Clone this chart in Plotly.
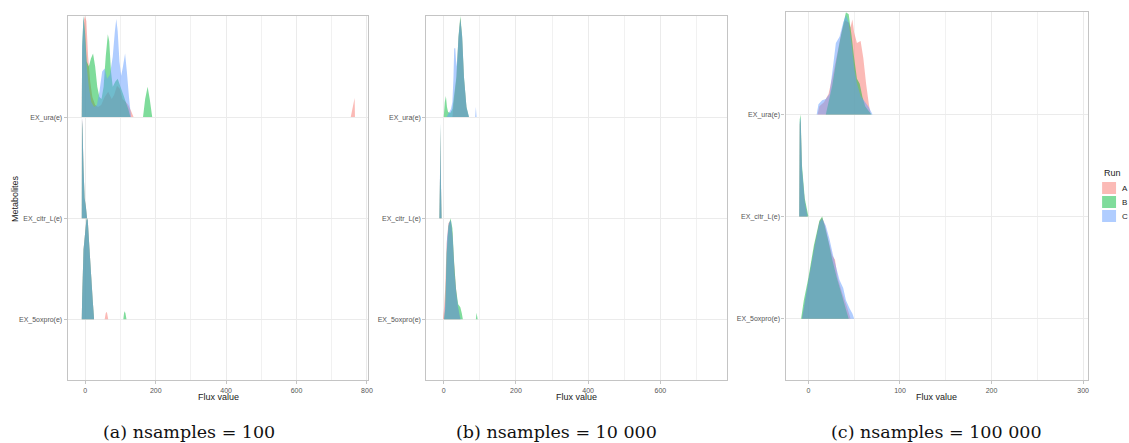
import plotly.graph_objects as go

W, H = 1129, 443
OFF = 0  # body margin removed by post_script

# ---------------- data ----------------
metabolites = ["EX_5oxpro(e)", "EX_citr_L(e)", "EX_ura(e)"]   # bottom -> top
runs = ["A", "B", "C"]
run_colors = {"A": "rgba(248,118,109,0.5)", "B": "rgba(0,186,56,0.5)", "C": "rgba(97,156,255,0.5)"}

captions = ["(a) nsamples = 100", "(b) nsamples = 10 000", "(c) nsamples = 100 000"]
ticks_a = [0, 200, 400, 600, 800]
ticks_b = [0, 200, 400, 600]
ticks_c = [0, 100, 200, 300]

# panel (a) nsamples = 100 : scaled ridge heights
a_ura_A_x = [-10, -9, -5, -1, 3, 8, 14, 20, 28, 36, 45, 55, 65, 75, 82, 90, 98, 106, 115, 122, 130, 137, None, 754, 765, 766]
a_ura_A_h = [0, 0.6, 0.95, 1.0, 0.95, 0.6, 0.35, 0.2, 0.12, 0.1, 0.12, 0.2, 0.25, 0.18, 0.22, 0.31, 0.28, 0.18, 0.15, 0.12, 0.06, 0, None, 0, 0.19, 0]
a_ura_B_x = [-10, -9, -5, -1, 4, 10, 16, 22, 28, 34, 40, 46, 52, 58, 64, 68, 73, 78, 85, 92, 100, 108, 115, 122, 128, None, 164, 170, 177, 183, 190]
a_ura_B_h = [0, 0.7, 1.0, 0.85, 0.55, 0.5, 0.58, 0.63, 0.5, 0.3, 0.2, 0.18, 0.3, 0.6, 0.82, 0.75, 0.45, 0.3, 0.35, 0.38, 0.3, 0.22, 0.15, 0.08, 0, None, 0, 0.18, 0.3, 0.18, 0]
a_ura_C_x = [-10, -9, -5, -1, 4, 10, 17, 25, 33, 40, 48, 55, 62, 70, 78, 84, 88, 92, 97, 102, 107, 113, 118, 124, 130]
a_ura_C_h = [0, 0.7, 1.0, 0.8, 0.5, 0.3, 0.15, 0.1, 0.12, 0.25, 0.45, 0.48, 0.38, 0.42, 0.6, 0.85, 0.97, 0.85, 0.55, 0.41, 0.5, 0.63, 0.45, 0.2, 0]

a_citr_A_x = [-10, -9.5, -8, -5, -2, 2, 5]
a_citr_A_h = [0, 1.0, 0.9, 0.5, 0.2, 0.1, 0]
a_citr_B_x = [-10, -9.5, -8, -5, -2, 2, 5]
a_citr_B_h = [0, 0.98, 0.88, 0.48, 0.2, 0.1, 0]
a_citr_C_x = [-10, -9.5, -8, -5, -2, 2, 5]
a_citr_C_h = [0, 1.0, 0.9, 0.5, 0.2, 0.1, 0]

a_oxp_A_x = [-10, -9, -5, 3, 5, 7, 12, 21, 25, None, 55, 58, 60, 62, 65]
a_oxp_A_h = [0, 0.2, 0.69, 0.98, 1.0, 0.98, 0.69, 0.19, 0, None, 0, 0.06, 0.075, 0.06, 0]
a_oxp_B_x = [-10, -9, -5, 3, 5, 7, 12, 21, 25, None, 108, 110, 112, 114, 117]
a_oxp_B_h = [0, 0.2, 0.69, 0.98, 1.0, 0.98, 0.69, 0.19, 0, None, 0, 0.06, 0.08, 0.06, 0]
a_oxp_C_x = [-10, -9, -5, 3, 5, 7, 12, 21, 25]
a_oxp_C_h = [0, 0.2, 0.69, 0.98, 1.0, 0.98, 0.69, 0.19, 0]

# panel (b) nsamples = 10 000
b_ura_A_x = [24, 30, 35, 41, 46, 51, 56, 63, 69]
b_ura_A_h = [0, 0.22, 0.38, 0.78, 0.98, 0.78, 0.38, 0.09, 0]
b_ura_B_x = [0, 3, 6, 9, 12, 18, 24, 30, 35, 41, 46, 51, 56, 63, 70]
b_ura_B_h = [0, 0.15, 0.21, 0.1, 0.05, 0.04, 0.08, 0.25, 0.4, 0.8, 1.0, 0.8, 0.4, 0.1, 0]
b_ura_C_x = [8, 14, 20, 24, 27, 29, 32, 35, 38, 41, 46, 51, 56, 63, 70, None, 87, 89, 91]
b_ura_C_h = [0, 0.04, 0.08, 0.15, 0.4, 0.68, 0.68, 0.5, 0.6, 0.8, 0.97, 0.8, 0.4, 0.1, 0, None, 0, 0.1, 0]

b_citr_A_x = [-12, -10, -9, -8, -6]
b_citr_A_h = [0, 0.5, 0.9, 0.4, 0]
b_citr_B_x = [-12, -10, -9, -8, -6]
b_citr_B_h = [0, 0.5, 0.95, 0.4, 0]
b_citr_C_x = [-12, -10, -9, -8, -6]
b_citr_C_h = [0, 0.55, 0.95, 0.45, 0]

b_oxp_A_x = [-2, 1, 4, 8, 13, 19, 24, 28, 33, 38, 43, 46]
b_oxp_A_h = [0, 0.12, 0.3, 0.75, 0.95, 0.98, 0.85, 0.6, 0.35, 0.15, 0.05, 0]
b_oxp_B_x = [1, 4, 8, 13, 19, 24, 29, 34, 40, 46, 50, 53, None, 89, 91, 94]
b_oxp_B_h = [0, 0.1, 0.65, 0.92, 1.0, 0.9, 0.55, 0.3, 0.15, 0.12, 0.06, 0, None, 0, 0.066, 0]
b_oxp_C_x = [1, 5, 9, 14, 20, 25, 30, 35, 40, 44, 47]
b_oxp_C_h = [0, 0.2, 0.8, 0.95, 0.98, 0.8, 0.45, 0.25, 0.12, 0.04, 0]

# panel (c) nsamples = 100 000
c_ura_A_x = [10, 12, 17, 22, 27, 32, 36, 40, 44, 46, 48, 50, 53, 57, 60, 63, 66, 68]
c_ura_A_h = [0, 0.08, 0.12, 0.2, 0.4, 0.62, 0.8, 0.92, 0.9, 0.85, 0.93, 0.8, 0.7, 0.72, 0.55, 0.3, 0.1, 0]
c_ura_B_x = [19, 22, 26, 30, 34, 38, 41, 44, 47, 50, 53, 56, 59, 62, 66, 69]
c_ura_B_h = [0, 0.12, 0.28, 0.5, 0.7, 0.88, 1.0, 0.98, 0.78, 0.55, 0.35, 0.3, 0.17, 0.08, 0.03, 0]
c_ura_C_x = [9, 11, 15, 19, 23, 27, 30, 34, 38, 41, 44, 47, 50, 53, 57, 62, 66, 70]
c_ura_C_h = [0, 0.1, 0.14, 0.15, 0.2, 0.48, 0.7, 0.76, 0.9, 0.97, 0.9, 0.7, 0.45, 0.3, 0.18, 0.12, 0.07, 0]

c_citr_A_x = [-10, -9.5, -8.5, -7, -4, -1]
c_citr_A_h = [0, 0.9, 0.95, 0.45, 0.15, 0]
c_citr_B_x = [-10, -9.5, -8.5, -7, -4, 0]
c_citr_B_h = [0, 0.95, 1.0, 0.5, 0.18, 0]
c_citr_C_x = [-10, -9.5, -8.5, -7, -4, -1]
c_citr_C_h = [0, 0.92, 0.97, 0.47, 0.15, 0]

c_oxp_A_x = [-7, -4, 1, 7, 12, 15, 18, 22, 26, 29, 32, 37, 42, 46]
c_oxp_A_h = [0, 0.15, 0.42, 0.73, 0.95, 0.99, 0.92, 0.76, 0.62, 0.58, 0.4, 0.25, 0.12, 0]
c_oxp_B_x = [-8, -5, 0, 6, 12, 15, 18, 22, 26, 31, 36, 41, 44]
c_oxp_B_h = [0, 0.18, 0.4, 0.72, 0.96, 1.0, 0.9, 0.75, 0.58, 0.4, 0.25, 0.09, 0]
c_oxp_C_x = [-7, -4, 1, 7, 12, 15, 19, 23, 27, 31, 34, 38, 41, 45, 48, 50]
c_oxp_C_h = [0, 0.16, 0.42, 0.72, 0.94, 0.98, 0.91, 0.78, 0.62, 0.48, 0.38, 0.3, 0.18, 0.1, 0.05, 0]

panels = [
    {"ura": {"A": (a_ura_A_x, a_ura_A_h), "B": (a_ura_B_x, a_ura_B_h), "C": (a_ura_C_x, a_ura_C_h)},
     "citr": {"A": (a_citr_A_x, a_citr_A_h), "B": (a_citr_B_x, a_citr_B_h), "C": (a_citr_C_x, a_citr_C_h)},
     "oxp": {"A": (a_oxp_A_x, a_oxp_A_h), "B": (a_oxp_B_x, a_oxp_B_h), "C": (a_oxp_C_x, a_oxp_C_h)}},
    {"ura": {"A": (b_ura_A_x, b_ura_A_h), "B": (b_ura_B_x, b_ura_B_h), "C": (b_ura_C_x, b_ura_C_h)},
     "citr": {"A": (b_citr_A_x, b_citr_A_h), "B": (b_citr_B_x, b_citr_B_h), "C": (b_citr_C_x, b_citr_C_h)},
     "oxp": {"A": (b_oxp_A_x, b_oxp_A_h), "B": (b_oxp_B_x, b_oxp_B_h), "C": (b_oxp_C_x, b_oxp_C_h)}},
    {"ura": {"A": (c_ura_A_x, c_ura_A_h), "B": (c_ura_B_x, c_ura_B_h), "C": (c_ura_C_x, c_ura_C_h)},
     "citr": {"A": (c_citr_A_x, c_citr_A_h), "B": (c_citr_B_x, c_citr_B_h), "C": (c_citr_C_x, c_citr_C_h)},
     "oxp": {"A": (c_oxp_A_x, c_oxp_A_h), "B": (c_oxp_B_x, c_oxp_B_h), "C": (c_oxp_C_x, c_oxp_C_h)}},
]
met_keys = {"oxp": 1, "citr": 2, "ura": 3}

# ---------------- layout helpers (page pixel -> paper) ----------------
def fx(px):
    return (px - OFF) / W

def fy(py):
    return 1 - (py - OFF) / H

panel_px = [  # left, right, top, bottom in page pixels
    (68, 370, 16, 380),
    (428.3, 730, 16, 380),
    (789, 1093.3, 12.3, 380),
]
x_ranges = [[-50, 804], [-48, 784], [-25, 305.8]]
x_ticks = [ticks_a, ticks_b, ticks_c]
minor_dtick = [100, 100, 50]

fig = go.Figure()

for p, pdata in enumerate(panels):
    xa = "x" if p == 0 else f"x{p+1}"
    ya = "y" if p == 0 else f"y{p+1}"
    for mk in ["ura", "citr", "oxp"]:
        base = met_keys[mk]
        for r in runs:
            xs, hs = pdata[mk][r]
            ys = [None if h is None else base + h for h in hs]
            fig.add_trace(go.Scatter(
                x=xs, y=ys, mode="none", fill="toself",
                fillcolor=run_colors[r], xaxis=xa, yaxis=ya,
                showlegend=False, hoverinfo="skip", name=r,
            ))

grid_major = "#ebebeb"
border = "#c4c4c4"
tickfont = dict(family="Liberation Sans, Arial, sans-serif", size=7, color="#555555")

layout = dict(
    width=W, height=H, autosize=False,
    margin=dict(l=0, r=0, t=0, b=0),
    paper_bgcolor="white", plot_bgcolor="white",
    showlegend=False,
)
for p in range(3):
    l, r, t, b = panel_px[p]
    xk = "xaxis" if p == 0 else f"xaxis{p+1}"
    yk = "yaxis" if p == 0 else f"yaxis{p+1}"
    ya = "y" if p == 0 else f"y{p+1}"
    xa = "x" if p == 0 else f"x{p+1}"
    layout[xk] = dict(
        domain=[fx(l), fx(r)], range=x_ranges[p], anchor=ya,
        tickmode="array", tickvals=x_ticks[p], ticktext=[str(v) for v in x_ticks[p]],
        showgrid=True, gridcolor=grid_major, gridwidth=1,
        minor=dict(dtick=minor_dtick[p], tick0=0, showgrid=True, gridcolor="#f1f1f1", gridwidth=0.8),
        showline=True, mirror=True, linecolor=border, linewidth=1.2,
        ticks="outside", ticklen=3, tickcolor=border, tickwidth=1,
        tickfont=tickfont, zeroline=False, layer="below traces",
    )
    layout[yk] = dict(
        domain=[fy(b), fy(t)], range=[0.4, 4.0], anchor=xa,
        tickmode="array", tickvals=[1, 2, 3], ticktext=metabolites,
        showgrid=True, gridcolor=grid_major, gridwidth=1,
        showline=True, mirror=True, linecolor=border, linewidth=1.2,
        ticks="outside", ticklen=3, tickcolor=border, tickwidth=1,
        tickfont=tickfont, zeroline=False,
    )
fig.update_layout(**layout)

annotations = []
title_font = dict(family="Liberation Sans, Arial, sans-serif", size=9, color="#222222")
for p in range(3):
    l, r, t, b = panel_px[p]
    annotations.append(dict(text="Flux value", x=fx((l + r) / 2), y=fy(397), xref="paper", yref="paper",
                            xanchor="center", yanchor="middle", showarrow=False, font=title_font))
annotations.append(dict(text="Metabolites", x=fx(15), y=fy(198), xref="paper", yref="paper",
                        xanchor="center", yanchor="middle", textangle=-90, showarrow=False, font=title_font))
cap_centers = [190, 559, 941]
for cx, cap in zip(cap_centers, captions):
    annotations.append(dict(text=cap, x=fx(cx), y=fy(432), xref="paper", yref="paper",
                            xanchor="center", yanchor="middle", showarrow=False,
                            font=dict(family="DejaVu Serif, serif", size=17.5, color="#111111")))

# legend (Run)
annotations.append(dict(text="Run", x=fx(1107), y=fy(173), xref="paper", yref="paper",
                        xanchor="left", yanchor="middle", showarrow=False, font=title_font))
shapes = []
key_tops = [182, 196, 210]
for r, kt in zip(runs, key_tops):
    shapes.append(dict(type="rect", xref="paper", yref="paper", x0=fx(1107), x1=fx(1121),
                       y0=fy(kt + 12), y1=fy(kt), fillcolor=run_colors[r], line=dict(width=0)))
    annotations.append(dict(text=r, x=fx(1125), y=fy(kt + 6), xref="paper", yref="paper",
                            xanchor="left", yanchor="middle", showarrow=False,
                            font=dict(family="Liberation Sans, Arial, sans-serif", size=8, color="#222222")))

fig.update_layout(annotations=annotations, shapes=shapes)
fig.write_html("out.html",
               config={"displayModeBar": False},
               post_script="document.body.style.margin='0px';document.body.style.overflow='hidden';")
